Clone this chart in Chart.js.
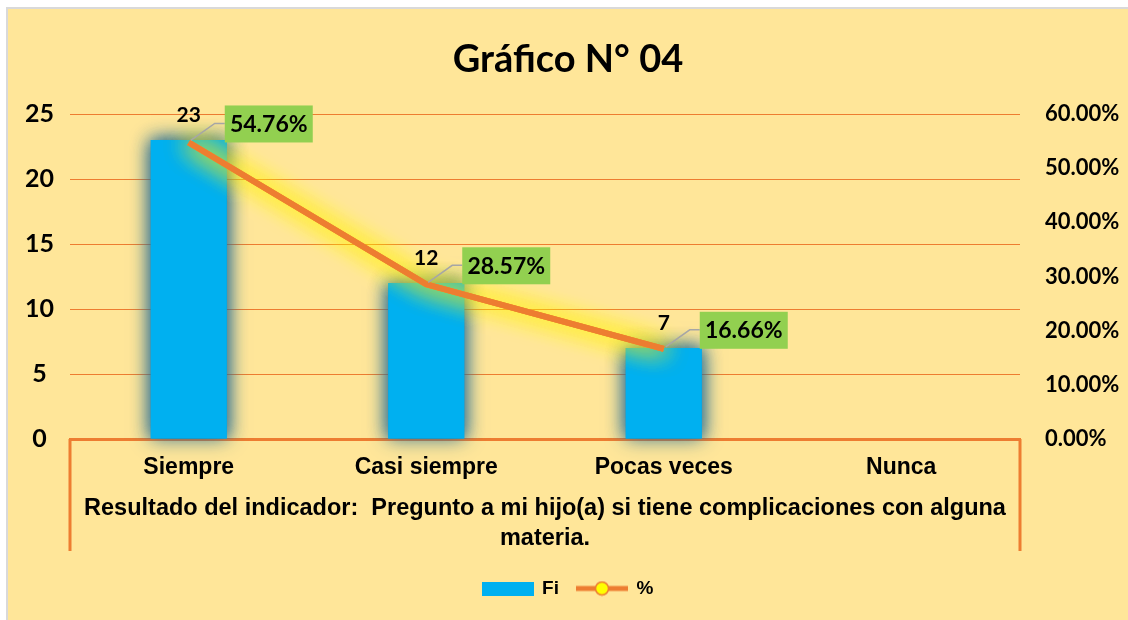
<!DOCTYPE html>
<html>
<head>
<meta charset="utf-8">
<script src="https://cdn.jsdelivr.net/npm/chart.js@4"></script>
<style>
  body { margin: 0; background: #fff; }
  .frame {
    position: absolute; left: 6px; top: 7px;
    border-left: 2px solid #d9d9d9; border-top: 2px solid #d9d9d9;
  }
  canvas { display: block; background: #ffe699; }
</style>
</head>
<body>
<div class="frame"><canvas id="grafico" width="1120" height="611"></canvas></div>
<script>
// Datos del gráfico
const categorias = ["Siempre", "Casi siempre", "Pocas veces", "Nunca"]
const fi = [23, 12, 7, null]
const porcentaje = [54.76, 28.57, 16.66, null]
const etiquetasPct = ["54.76%", "28.57%", "16.66%", null]
const tituloEje = ["Resultado del indicador:  Pregunto a mi hijo(a) si tiene complicaciones con alguna", "materia."]

const naranja = "#ED7D31"
const azul = "#00B0F0"
const verde = "#92D050"

// legend swatches
function swatchBar() {
  const c = document.createElement("canvas")
  c.width = 52
  c.height = 14
  const g = c.getContext("2d")
  g.fillStyle = azul
  g.fillRect(0, 0, 52, 14)
  return c
}

function swatchLine() {
  const c = document.createElement("canvas")
  c.width = 52
  c.height = 16
  const g = c.getContext("2d")
  g.fillStyle = naranja
  g.fillRect(0, 5.5, 52, 5)
  g.beginPath()
  g.arc(26, 8, 6.5, 0, Math.PI * 2)
  g.fillStyle = "#FFFF00"
  g.fill()
  g.lineWidth = 1.5
  g.strokeStyle = naranja
  g.stroke()
  return c
}

const swatches = [swatchBar(), swatchLine()]

// glow for bars and line
const glowPlugin = {
  id: "glow",
  beforeDatasetDraw(chart, args) {
    const ctx = chart.ctx
    ctx.save()
    if (args.meta.type === "bar") {
      ctx.shadowColor = "rgba(40,110,150,0.9)"
      ctx.shadowBlur = 18
      args.meta.data.forEach((b) => b.draw(ctx))
    } else {
      ctx.shadowColor = "rgba(255,240,0,1)"
      ctx.shadowBlur = 24
      args.meta.dataset.draw(ctx, chart.chartArea)
      args.meta.dataset.draw(ctx, chart.chartArea)
    }
  },
  afterDatasetDraw(chart) {
    chart.ctx.restore()
  },
}

// data labels and axis box
const labelsPlugin = {
  id: "etiquetas",
  afterDatasetsDraw(chart) {
    const ctx = chart.ctx
    const area = chart.chartArea
    const xs = chart.scales.x

    // orange frame below the plot
    ctx.save()
    ctx.strokeStyle = naranja
    ctx.lineWidth = 3
    ctx.beginPath()
    ctx.moveTo(area.left, area.bottom)
    ctx.lineTo(area.left, xs.bottom - 10)
    ctx.moveTo(area.right, area.bottom)
    ctx.lineTo(area.right, xs.bottom - 10)
    ctx.stroke()
    ctx.restore()

    // bar values
    const barMeta = chart.getDatasetMeta(0)
    ctx.save()
    ctx.font = "bold 21px Lato"
    ctx.fillStyle = "#000"
    ctx.textAlign = "center"
    ctx.textBaseline = "middle"
    barMeta.data.forEach((bar, i) => {
      if (fi[i] == null) return
      ctx.fillText(String(fi[i]), bar.x, bar.y - 25)
    })
    ctx.restore()

    // percent boxes
    const lineMeta = chart.getDatasetMeta(1)
    ctx.save()
    lineMeta.data.forEach((pt, i) => {
      if (porcentaje[i] == null) return
      const bx = pt.x + 36
      const cy = pt.y - 19
      ctx.strokeStyle = "#A6A6A6"
      ctx.lineWidth = 1.5
      ctx.beginPath()
      ctx.moveTo(pt.x + 2, pt.y - 2)
      ctx.lineTo(pt.x + 26, cy)
      ctx.lineTo(bx, cy)
      ctx.stroke()
      ctx.fillStyle = verde
      ctx.fillRect(bx, cy - 18, 88, 37)
      ctx.fillStyle = "#000"
      ctx.font = "bold 23px Lato"
      ctx.textAlign = "center"
      ctx.textBaseline = "middle"
      ctx.fillText(etiquetasPct[i], bx + 44, cy + 1)
    })
    ctx.restore()
  },
}

new Chart(document.getElementById("grafico"), {
  type: "bar",
  data: {
    labels: categorias,
    datasets: [
      {
        label: "Fi",
        data: fi,
        backgroundColor: azul,
        yAxisID: "y",
        order: 1,
        barPercentage: 0.32,
        categoryPercentage: 1,
      },
      {
        type: "line",
        label: "%",
        data: porcentaje,
        borderColor: naranja,
        backgroundColor: "#FFFF00",
        borderWidth: 6,
        pointRadius: 0,
        tension: 0,
        yAxisID: "y1",
        order: 0,
      },
    ],
  },
  options: {
    responsive: false,
    animation: false,
    layout: { padding: { left: 0, right: 0, top: 0, bottom: 12 } },
    plugins: {
      tooltip: { enabled: false },
      title: {
        display: true,
        text: "Gráfico N° 04",
        color: "#000",
        font: { family: "Lato", size: 38, weight: "bold", lineHeight: 1.2 },
        padding: { top: 28, bottom: 31.5 },
      },
      legend: {
        position: "bottom",
        labels: {
          usePointStyle: true,
          pointStyleWidth: 50,
          boxHeight: 14,
          padding: 18,
          color: "#000",
          font: { family: "Liberation Sans", size: 19, weight: "bold" },
          sort: (a, b) => a.datasetIndex - b.datasetIndex,
          generateLabels(chart) {
            const items = Chart.defaults.plugins.legend.labels.generateLabels(chart)
            items.forEach((it) => {
              it.pointStyle = swatches[it.datasetIndex]
            })
            return items
          },
        },
      },
    },
    scales: {
      x: {
        grid: { display: false, drawTicks: false },
        border: { display: true, color: naranja, width: 3 },
        ticks: {
          color: "#000",
          padding: 15,
          font: { family: "Liberation Sans", size: 23, weight: "bold" },
        },
        title: {
          display: true,
          text: tituloEje,
          color: "#000",
          font: { family: "Liberation Sans", size: 23.5, weight: "bold", lineHeight: 1.28 },
          padding: { top: 0, bottom: 7 },
        },
        afterFit(scale) {
          scale.height = 122
        },
      },
      y: {
        position: "left",
        min: 0,
        max: 25,
        ticks: {
          stepSize: 5,
          color: "#000",
          padding: 16,
          crossAlign: "center",
          font: { family: "Lato", size: 25, weight: "bold" },
        },
        grid: { color: naranja, lineWidth: 1, drawTicks: false },
        border: { display: false },
        afterFit(scale) {
          scale.width = 62
        },
      },
      y1: {
        position: "right",
        min: 0,
        max: 60,
        ticks: {
          stepSize: 10,
          color: "#000",
          padding: 25,
          font: { family: "Lato", size: 22, weight: "bold" },
          callback: (v) => v.toFixed(2) + "%",
        },
        grid: { display: false, drawTicks: false },
        border: { display: false },
        afterFit(scale) {
          scale.width = 108
        },
      },
    },
  },
  plugins: [glowPlugin, labelsPlugin],
})
</script>
</body>
</html>
